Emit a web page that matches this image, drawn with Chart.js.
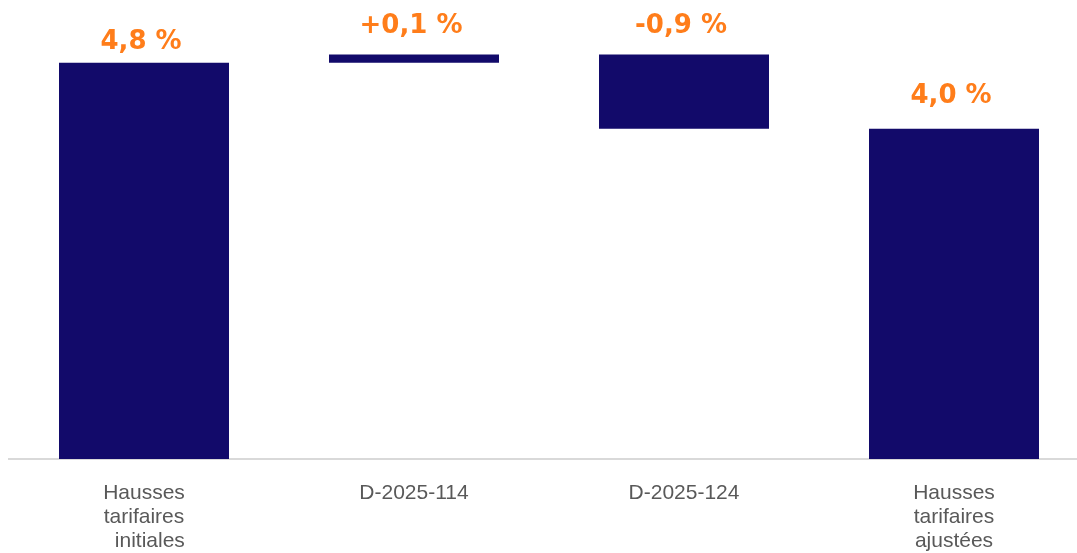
<!DOCTYPE html>
<html><head><meta charset="utf-8">
<script src="https://cdn.jsdelivr.net/npm/chart.js@4/dist/chart.umd.min.js"></script>
<style>html,body{margin:0;padding:0;overflow:hidden;background:#fff}#wrap{width:1090px;height:553px}</style>
</head><body><div id="wrap"><canvas id="c" width="1090" height="553"></canvas></div>
<script>
const categories = [["Hausses","tarifaires","  initiales"], "D-2025-114", "D-2025-124", ["Hausses","tarifaires","ajustées"]];
const barStarts = [0, 4.8, 4.0, 0];
const barEnds = [4.8, 4.9, 4.9, 4.0];
const valueLabels = ["4,8 %", "+0,1 %", "-0,9 %", "4,0 %"];
const labelOffsets = [14, 22, 22, 26];

const labelPlugin = {
  id: 'vlabels',
  afterDatasetsDraw(chart) {
    const ctx = chart.ctx;
    const meta = chart.getDatasetMeta(0);
    ctx.save();
    ctx.font = 'bold 26px "DejaVu Sans"';
    ctx.fillStyle = '#FF7D1A';
    ctx.textAlign = 'center';
    ctx.textBaseline = 'alphabetic';
    meta.data.forEach((bar, i) => {
      const top = Math.min(bar.y, bar.base);
      ctx.fillText(valueLabels[i], bar.x - 3, top - labelOffsets[i]);
    });
    ctx.restore();
  }
};

new Chart(document.getElementById('c'), {
  type: 'bar',
  data: {
    labels: categories,
    datasets: [{
      data: barStarts.map((s, i) => [s, barEnds[i]]),
      backgroundColor: '#120A6A',
      borderWidth: 0,
      categoryPercentage: 1,
      barPercentage: 170/270
    }]
  },
  options: {
    responsive: false,
    animation: false,
    layout: { padding: { left: 9, right: 1, top: 5, bottom: 0 } },
    plugins: { legend: { display: false }, tooltip: { enabled: false } },
    scales: {
      x: {
        grid: { display: false, drawTicks: false },
        border: { display: true, color: '#D9D9D9', width: 2 },
        ticks: { color: '#595959', font: { family: '"Liberation Sans"', size: 21, lineHeight: 1.15 }, padding: 22, maxRotation: 0, autoSkip: false },
        afterFit(s) { s.height = 94; }
      },
      y: { display: false, min: 0, max: 5.5 }
    }
  },
  plugins: [labelPlugin]
});
</script></body></html>
